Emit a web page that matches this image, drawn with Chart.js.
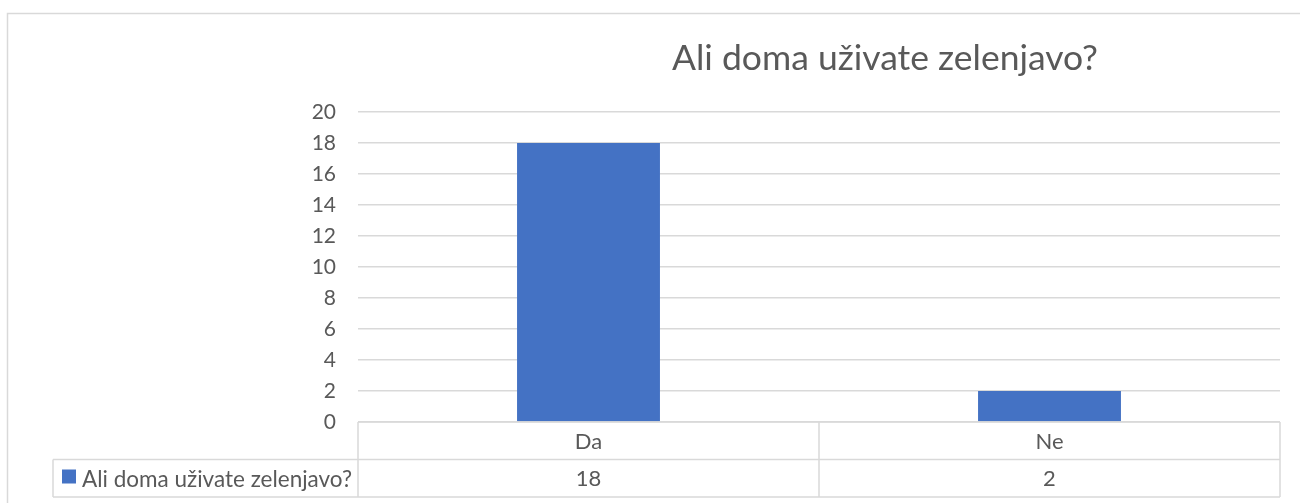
<!DOCTYPE html>
<html>
<head>
<meta charset="utf-8">
<script src="https://cdn.jsdelivr.net/npm/chart.js@4"></script>
<style>
  html, body { margin: 0; padding: 0; background: #fff; }
  #wrap { width: 1300px; height: 503px; position: relative; }
</style>
</head>
<body>
<div id="wrap"><canvas id="chart" width="1300" height="503"></canvas></div>
<script>
// Values
const chartTitle = 'Ali doma uživate zelenjavo?';
const categories = ['Da', 'Ne'];
const seriesName = 'Ali doma uživate zelenjavo?';
const seriesValues = [18, 2];
const yMin = 0;
const yMax = 20;
const yStep = 2;

const FONT = 'Lato, "Open Sans", sans-serif';
const TEXT = '#595959';
const LINE = '#d9d9d9';
const BAR = '#4472c4';

// Excel-style frame + title, drawn before the chart itself
const framePlugin = {
  id: 'frame',
  beforeDraw(chart) {
    const ctx = chart.ctx;
    ctx.save();
    ctx.fillStyle = '#fff';
    ctx.fillRect(0, 0, chart.width, chart.height);
    ctx.strokeStyle = LINE;
    ctx.lineWidth = 1.5;
    ctx.beginPath();
    ctx.moveTo(7.5, chart.height + 2);
    ctx.lineTo(7.5, 13.5);
    ctx.lineTo(chart.width + 2, 13.5);
    ctx.stroke();

    ctx.fillStyle = TEXT;
    ctx.font = `35.5px ${FONT}`;
    ctx.textAlign = 'center';
    ctx.textBaseline = 'alphabetic';
    ctx.fillText(chartTitle, 885, 70);
    ctx.restore();
  },
};

// Data table under the plot (Excel "data table with legend keys")
const dataTablePlugin = {
  id: 'dataTable',
  afterDraw(chart) {
    const ctx = chart.ctx;
    const area = chart.chartArea;
    const x = chart.scales.x;
    const rowH = 37.5;
    const top = area.bottom;
    const mid = top + rowH;
    const bottom = mid + rowH;
    const legendLeft = 53;

    // column boundaries from the category scale
    const edges = [area.left];
    for (let i = 0; i < categories.length - 1; i++) {
      edges.push((x.getPixelForValue(i) + x.getPixelForValue(i + 1)) / 2);
    }
    edges.push(area.right);

    ctx.save();
    ctx.strokeStyle = LINE;
    ctx.lineWidth = 1.5;
    ctx.beginPath();
    ctx.moveTo(area.left, top); ctx.lineTo(area.right, top);
    ctx.moveTo(legendLeft, mid); ctx.lineTo(area.right, mid);
    ctx.moveTo(legendLeft, bottom); ctx.lineTo(area.right, bottom);
    ctx.moveTo(legendLeft, mid); ctx.lineTo(legendLeft, bottom);
    edges.forEach((e) => { ctx.moveTo(e, top); ctx.lineTo(e, bottom); });
    ctx.stroke();

    ctx.fillStyle = TEXT;
    ctx.font = `22px ${FONT}`;
    ctx.textAlign = 'center';
    ctx.textBaseline = 'middle';
    categories.forEach((c, i) => {
      const cx = x.getPixelForValue(i);
      ctx.fillText(c, cx, top + rowH / 2 + 1);
      ctx.fillText(String(seriesValues[i]), cx, mid + rowH / 2 + 1);
    });

    // legend key + series name
    ctx.fillStyle = BAR;
    ctx.fillRect(62, mid + 10, 14, 14);
    ctx.fillStyle = TEXT;
    ctx.textAlign = 'left';
    ctx.font = `22.5px ${FONT}`;
    ctx.fillText(seriesName, 82, mid + rowH / 2 + 1);
    ctx.restore();
  },
};

new Chart(document.getElementById('chart'), {
  type: 'bar',
  data: {
    labels: categories,
    datasets: [{
      label: seriesName,
      data: seriesValues,
      backgroundColor: BAR,
      borderWidth: 0,
      barPercentage: 0.31,
      categoryPercentage: 1,
    }],
  },
  options: {
    responsive: false,
    animation: false,
    devicePixelRatio: 1,
    layout: { padding: { left: 0, top: 112, right: 20, bottom: 81 } },
    scales: {
      x: { display: false, offset: true },
      y: {
        min: yMin,
        max: yMax,
        border: { display: false },
        grid: { color: LINE, lineWidth: 1.5, drawTicks: false },
        ticks: { stepSize: yStep, color: TEXT, padding: 22, font: { family: FONT, size: 21 } },
        afterFit(scale) { scale.width = 358; },
      },
    },
    plugins: {
      legend: { display: false },
      tooltip: { enabled: false },
      title: { display: false },
    },
  },
  plugins: [framePlugin, dataTablePlugin],
});
</script>
</body>
</html>
